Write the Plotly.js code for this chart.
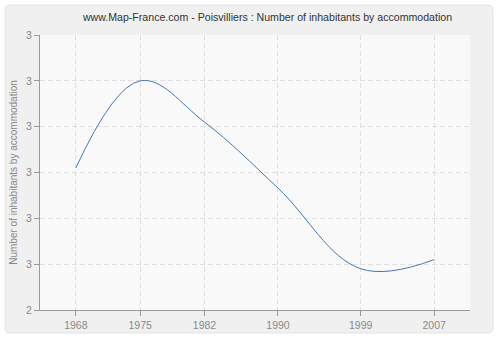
<!DOCTYPE html>
<html>
<head>
<meta charset="utf-8">
<script src="https://cdn.plot.ly/plotly-3.0.1.min.js"></script>
<style>html,body{margin:0;padding:0;background:#fff;}#chart{width:500px;height:340px;}</style>
</head>
<body>
<div id="chart"></div>
<script>
var years = [1968, 1975, 1982, 1990, 1999, 2007];
var inhabitantsPerHousing = [2.71, 2.90, 2.81, 2.666, 2.49, 2.51];
var yTickValues = [2.4, 2.5, 2.6, 2.7, 2.8, 2.9, 3.0];
var yTickLabels = ["2", "3", "3", "3", "3", "3", "3"];
var xTickLabels = ["1968", "1975", "1982", "1990", "1999", "2007"];

var fontFam = "Liberation Sans, Arial, sans-serif";
var trace = {
  x: years,
  y: inhabitantsPerHousing,
  type: "scatter",
  mode: "lines",
  line: {shape: "spline", smoothing: 1.1, color: "#4a77ad", width: 1},
  hoverinfo: "x+y"
};

// rounded outer panel in paper coordinates (plot area 430x275 px)
var px = 1 / 430, py = 1 / 275;
var X0 = -35 * px, X1 = 453 * px, Y0 = -23 * py, Y1 = 305 * py, rx = 5 * px, ry = 5 * py;
var panelPath = "M " + (X0 + rx) + "," + Y1 +
  " L " + (X1 - rx) + "," + Y1 + " Q " + X1 + "," + Y1 + " " + X1 + "," + (Y1 - ry) +
  " L " + X1 + "," + (Y0 + ry) + " Q " + X1 + "," + Y0 + " " + (X1 - rx) + "," + Y0 +
  " L " + (X0 + rx) + "," + Y0 + " Q " + X0 + "," + Y0 + " " + X0 + "," + (Y0 + ry) +
  " L " + X0 + "," + (Y1 - ry) + " Q " + X0 + "," + Y1 + " " + (X0 + rx) + "," + Y1 + " Z";

var layout = {
  width: 500, height: 340,
  margin: {l: 40, r: 30, t: 35, b: 30},
  paper_bgcolor: "#ffffff",
  plot_bgcolor: "#f9f9f9",
  showlegend: false,
  title: {text: "www.Map-France.com - Poisvilliers : Number of inhabitants by accommodation",
          font: {family: fontFam, size: 10.6, color: "#333"}, x: 0.535, xanchor: "center", y: 0.948, yanchor: "middle"},
  xaxis: {
    range: [1964.1, 2010.9],
    tickvals: years, ticktext: xTickLabels,
    showgrid: true, gridcolor: "#e0e0e0", griddash: "5px,3px", gridwidth: 1,
    showline: true, linecolor: "#999", linewidth: 1,
    ticks: "outside", ticklen: 5, tickcolor: "#999",
    tickfont: {family: fontFam, size: 10.5, color: "#888"},
    zeroline: false, fixedrange: true
  },
  yaxis: {
    range: [2.4, 3.0],
    tickvals: yTickValues, ticktext: yTickLabels,
    showgrid: true, gridcolor: "#e0e0e0", griddash: "5px,3px", gridwidth: 1,
    showline: true, linecolor: "#999", linewidth: 1,
    ticks: "outside", ticklen: 5, tickcolor: "#999",
    tickfont: {family: fontFam, size: 10.5, color: "#888"},
    title: {text: "Number of inhabitants by accommodation", font: {family: fontFam, size: 10, color: "#888"}, standoff: 6},
    zeroline: false, fixedrange: true
  },
  shapes: [
    {type: "path", xref: "paper", yref: "paper", path: panelPath,
     line: {color: "#e4e4e4", width: 1}, fillcolor: "#f0f0f0", layer: "below"},
    {type: "rect", xref: "paper", yref: "paper", x0: 0, x1: 1, y0: 0, y1: 1,
     line: {width: 0}, fillcolor: "#f9f9f9", layer: "below"}
  ]
};
Plotly.newPlot("chart", [trace], layout, {displayModeBar: false, staticPlot: true});
</script>
</body>
</html>
